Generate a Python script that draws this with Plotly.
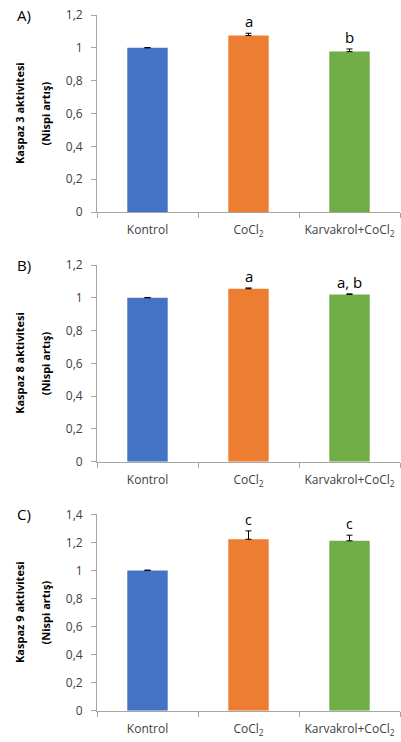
import plotly.graph_objects as go

categories = ["Kontrol", "CoCl<sub>2</sub>", "Karvakrol+CoCl<sub>2</sub>"]
colors = ["#4472C4", "#ED7D31", "#70AD47"]

casp3_values = [1.0, 1.075, 0.977]
casp3_err = [0.002, 0.014, 0.016]
casp3_letters = ["", "a", "b"]

casp8_values = [1.0, 1.055, 1.02]
casp8_err = [0.002, 0.005, 0.004]
casp8_letters = ["", "a", "a, b"]

casp9_values = [1.0, 1.222, 1.211]
casp9_err = [0.002, 0.06, 0.04]
casp9_letters = ["", "c", "c"]

panel_labels = ["A)", "B)", "C)"]
y_titles = ["Kaspaz 3 aktivitesi", "Kaspaz 8 aktivitesi", "Kaspaz 9 aktivitesi"]
y_subtitle = "(Nispi artış)"
y_ranges = [[0, 1.2], [0, 1.2], [0, 1.4]]

W, H = 401, 742


def px_x(x):
    return x / W


def px_y(y):
    return 1 - y / H


xdom = [px_x(97), px_x(400)]
ydoms = [[px_y(212), px_y(15)], [px_y(461.7), px_y(265)], [px_y(710.7), px_y(514.3)]]

fig = go.Figure()
panels = [(casp3_values, casp3_err, casp3_letters),
          (casp8_values, casp8_err, casp8_letters),
          (casp9_values, casp9_err, casp9_letters)]

font_family = "Open Sans"
tick_color = "#404040"
axis_color = "#A6A6A6"

for i, (vals, errs, letters) in enumerate(panels):
    xa = "x" if i == 0 else f"x{i+1}"
    ya = "y" if i == 0 else f"y{i+1}"
    fig.add_trace(go.Bar(
        x=categories, y=vals, marker_color=colors, marker_line_width=0,
        error_y=dict(type="data", array=errs, arrayminus=[0] * len(errs), symmetric=False,
                     color="#000000", thickness=1, width=3),
        xaxis=xa, yaxis=ya, showlegend=False, width=0.4,
    ))
    for c, v, e, t in zip(categories, vals, errs, letters):
        if t:
            fig.add_annotation(x=c, y=v + e, xref=xa, yref=ya, text=t, showarrow=False,
                               yanchor="bottom", yshift=0,
                               font=dict(family=font_family, size=15 if i < 2 else 14, color="#000000"))
    xkey = "xaxis" if i == 0 else f"xaxis{i+1}"
    ykey = "yaxis" if i == 0 else f"yaxis{i+1}"
    fig.update_layout(**{
        xkey: dict(domain=xdom, anchor=ya, showline=True, linecolor=axis_color, linewidth=1,
                   ticks="outside", tickson="boundaries", ticklen=5, tickcolor=axis_color,
                   tickfont=dict(family=font_family, size=12, color=tick_color), automargin=False,
                   showgrid=False, zeroline=False, fixedrange=True, ticklabelstandoff=7,
                   ticklabeloverflow="allow"),
        ykey: dict(domain=ydoms[i], anchor=xa, range=y_ranges[i], dtick=0.2, showline=True,
                   linecolor=axis_color, linewidth=1, ticks="outside", ticklen=5, tickcolor=axis_color,
                   tickfont=dict(family=font_family, size=12, color=tick_color), automargin=False,
                   showgrid=False, zeroline=False, ticklabelstandoff=6, ticklabeloverflow="allow"),
    })
    ymid = (ydoms[i][0] + ydoms[i][1]) / 2
    fig.add_annotation(x=px_x(19.5), y=ymid, xref="paper", yref="paper", text=f"<b>{y_titles[i]}</b>",
                       textangle=-90, showarrow=False, xanchor="center", yanchor="middle",
                       font=dict(family=font_family, size=11, color="#000000"))
    fig.add_annotation(x=px_x(45), y=ymid, xref="paper", yref="paper", text=f"<b>{y_subtitle}</b>",
                       textangle=-90, showarrow=False, xanchor="center", yanchor="middle",
                       font=dict(family=font_family, size=11, color="#000000"))
    fig.add_annotation(x=px_x(15), y=ydoms[i][1], xref="paper", yref="paper", text=panel_labels[i],
                       showarrow=False, xanchor="left", yanchor="middle", yshift=0,
                       font=dict(family=font_family, size=15, color="#000000"))

fig.update_layout(width=W, height=H, margin=dict(l=0, r=0, t=0, b=0, autoexpand=False),
                  paper_bgcolor="white", plot_bgcolor="white", separators=", ",
                  bargap=0.6)
fig.write_html("out.html", config={"displayModeBar": False},
               post_script="document.body.style.margin='0';document.body.style.overflow='hidden';")
